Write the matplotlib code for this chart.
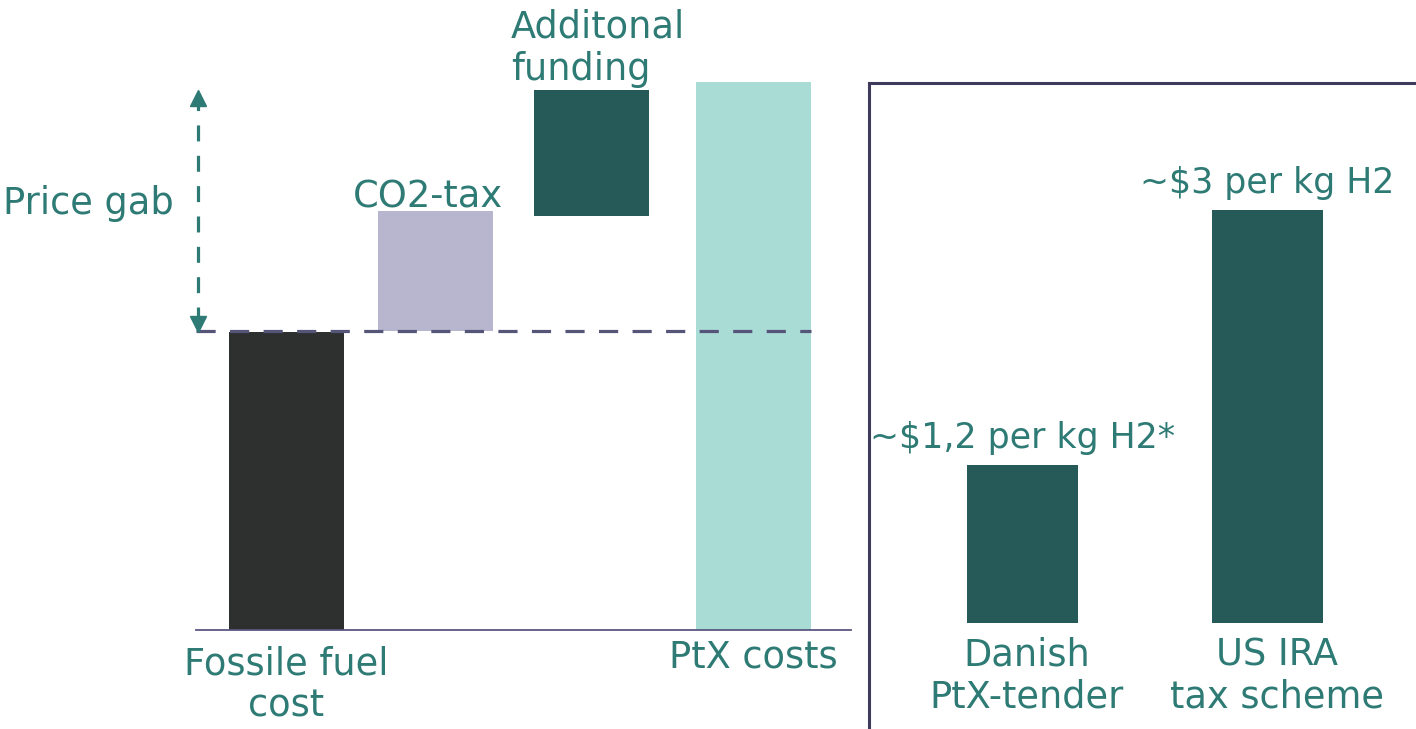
import matplotlib
matplotlib.use("Agg")
import matplotlib.pyplot as plt

# ---- data ----
wf_categories = ["Fossile fuel\ncost", "CO2-tax", "Additonal\nfunding", "PtX costs"]
wf_bottoms = [0.0, 54.6, 75.5, 0.0]
wf_tops = [54.4, 76.5, 98.5, 100.0]
wf_colors = ["#2e302f", "#b8b6ce", "#255a58", "#aadcd6"]
fossil_level = 54.6
price_gap_top = 98.5

sub_categories = ["Danish\nPtX-tender", "US IRA\ntax scheme"]
sub_values = [1.15, 3.0]
sub_labels = ["~$1,2 per kg H2*", "~$3 per kg H2"]
sub_color = "#255a58"

TEAL = "#2e7a74"
FIG_W, FIG_H = 1416, 729
plt.rcParams['font.family'] = ['DejaVu Sans']

fig = plt.figure(figsize=(FIG_W / 100, FIG_H / 100), dpi=100)

def box(x0, y0, x1, y1):
    # pixel box (top-left origin) -> figure fraction
    return [x0 / FIG_W, 1 - y1 / FIG_H, (x1 - x0) / FIG_W, (y1 - y0) / FIG_H]

def ftxt(px, py, s, **kw):
    fig.text(px / FIG_W, 1 - py / FIG_H, s, color=TEAL, **kw)

FS = 26.5

# ---- left waterfall ----
ax = fig.add_axes(box(196, 0, 851, 630))
wf_pos = [0, 0.96, 1.96, 3.0]
heights = [t - b for t, b in zip(wf_tops, wf_bottoms)]
ax.bar(wf_pos, heights, bottom=wf_bottoms, width=0.739, color=wf_colors, zorder=2)
ax.set_xlim(-0.581, 3.626)
ax.set_ylim(0, 115.0)
for s in ["top", "right", "left"]:
    ax.spines[s].set_visible(False)
ax.spines["bottom"].set_color("#5a5680")
ax.spines["bottom"].set_linewidth(1.3)
ax.set_xticks([])
ax.set_yticks([])
ax.patch.set_alpha(0)

# dashed fossil level line
ax.plot([-0.581, 3.369], [fossil_level, fossil_level], color="#55557a", lw=2.3,
        dashes=(6, 4.5), zorder=3, clip_on=False)
# price gap arrow
ax.plot([-0.568, -0.568], [fossil_level + 1.5, price_gap_top - 2.5], color=TEAL, lw=2.3,
        dashes=(5, 4.5), zorder=3, clip_on=False)
ax.plot([-0.568], [price_gap_top - 1.3], marker="^", color=TEAL, markersize=12, zorder=4,
        clip_on=False)
ax.plot([-0.568], [fossil_level + 1.3], marker="v", color=TEAL, markersize=12, zorder=4,
        clip_on=False)

# labels
ftxt(286, 685, "Fossile fuel\ncost", ha="center", va="center", fontsize=FS, linespacing=1.2)
ftxt(753, 657, "PtX costs", ha="center", va="center", fontsize=FS)
ftxt(428, 197, "CO2-tax", ha="center", va="center", fontsize=FS)
ftxt(511, 48, "Additonal\nfunding", ha="left", va="center", fontsize=FS, linespacing=1.2)
ftxt(3, 204, "Price gab", ha="left", va="center", fontsize=FS)

# ---- right panel ----
ax2 = fig.add_axes(box(869, 83, 1416, 729))
xs2 = list(range(len(sub_categories)))
ax2.bar(xs2, sub_values, width=0.455, color=sub_color)
ax2.set_xlim(-0.629, 1.609)
ax2.set_ylim(-0.77, 3.92)
for s in ["right", "bottom"]:
    ax2.spines[s].set_visible(False)
for s in ["top", "left"]:
    ax2.spines[s].set_color("#3d3a5c")
    ax2.spines[s].set_linewidth(2.2)
ax2.set_xticks([])
ax2.set_yticks([])
for x, v, lab in zip(xs2, sub_values, sub_labels):
    ax2.text(x, v + 0.07, lab, ha="center", va="bottom", fontsize=FS - 1.5, color=TEAL)
ftxt(1027, 676, sub_categories[0], ha="center", va="center", fontsize=FS, linespacing=1.2)
ftxt(1277, 676, sub_categories[1], ha="center", va="center", fontsize=FS, linespacing=1.2)

fig.savefig("out.png", dpi=100)
